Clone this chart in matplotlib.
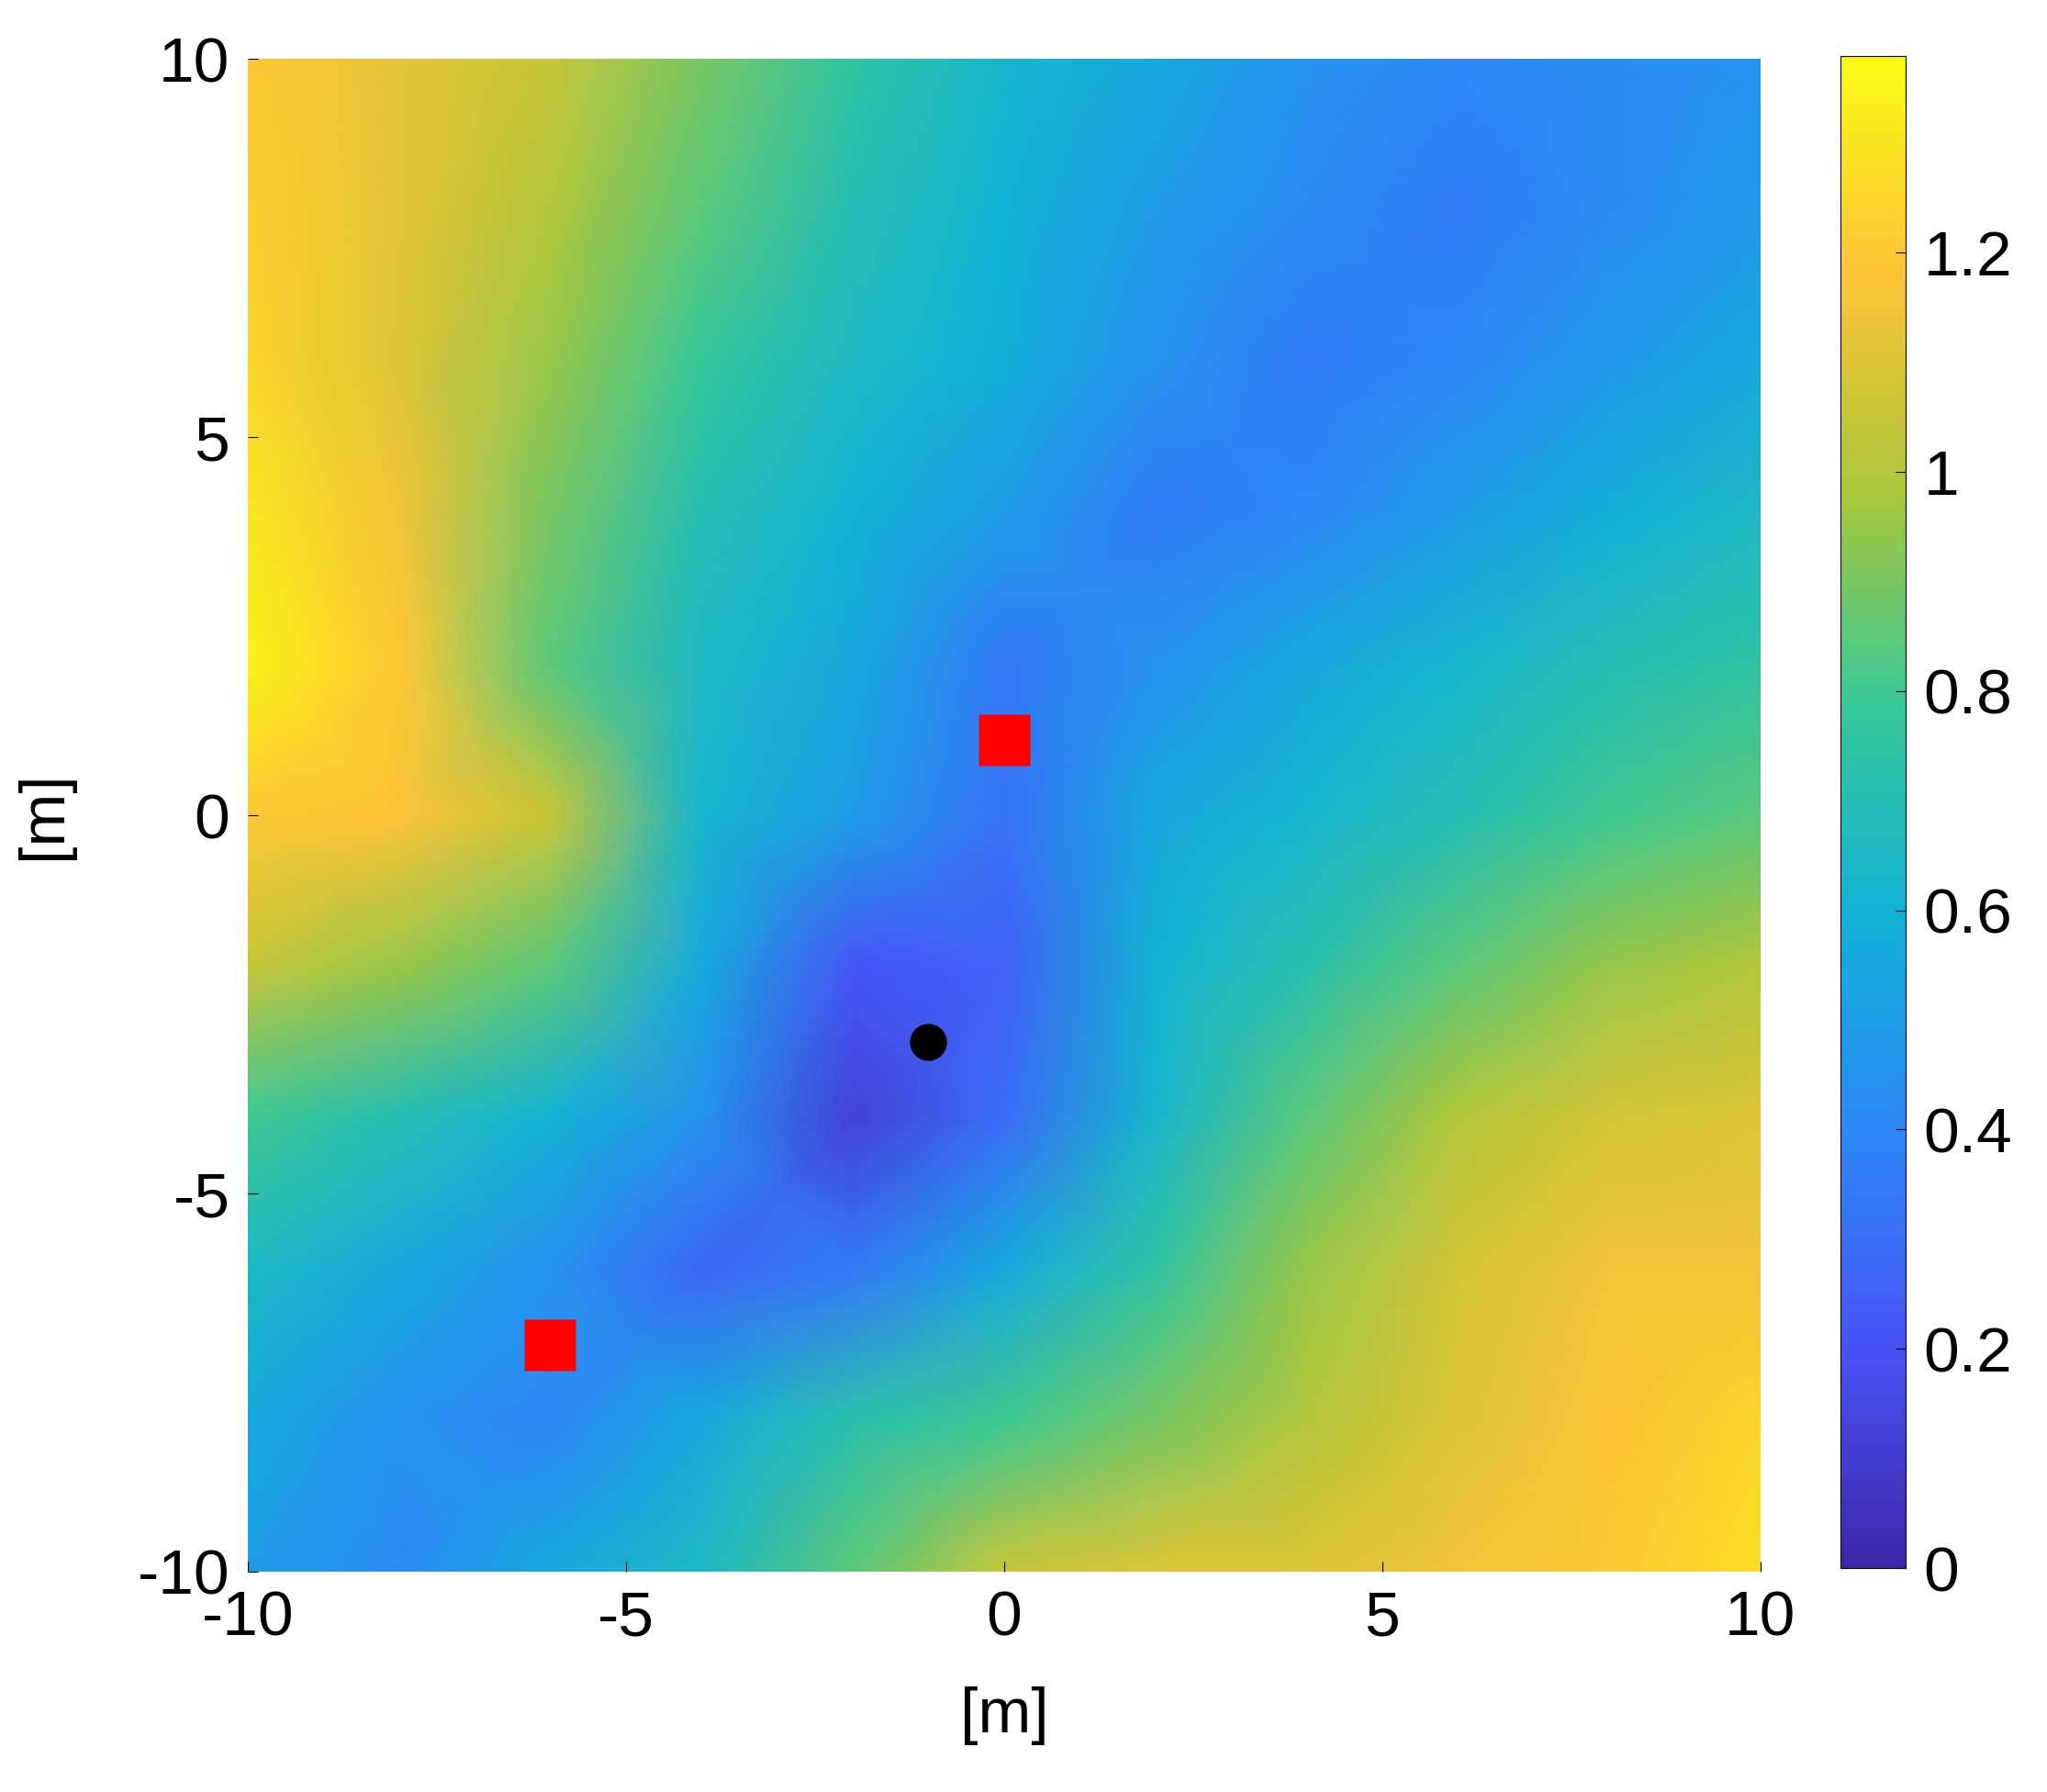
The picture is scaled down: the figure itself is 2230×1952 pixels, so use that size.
import numpy as np
import matplotlib
matplotlib.use("Agg")
import matplotlib.pyplot as plt
from matplotlib.colors import LinearSegmentedColormap

x_vals = [-10, -8, -6, -4, -2, 0, 2, 4, 6, 8, 10]
y_vals = [10, 8, 6, 4, 2, 0, -2, -4, -6, -8, -10]
z_rows = [
    [1.20, 1.12, 1.05, 0.90, 0.75, 0.62, 0.55, 0.45, 0.40, 0.42, 0.45],
    [1.22, 1.12, 1.00, 0.85, 0.70, 0.60, 0.50, 0.42, 0.36, 0.42, 0.48],
    [1.25, 1.10, 0.95, 0.78, 0.65, 0.58, 0.45, 0.36, 0.40, 0.48, 0.55],
    [1.30, 1.15, 0.90, 0.70, 0.60, 0.50, 0.36, 0.40, 0.50, 0.58, 0.65],
    [1.35, 1.20, 0.85, 0.65, 0.55, 0.35, 0.45, 0.55, 0.62, 0.70, 0.75],
    [1.20, 1.18, 1.05, 0.62, 0.50, 0.32, 0.55, 0.62, 0.70, 0.80, 0.85],
    [1.05, 0.95, 0.85, 0.55, 0.22, 0.25, 0.60, 0.72, 0.85, 0.95, 1.00],
    [0.80, 0.70, 0.60, 0.45, 0.12, 0.30, 0.62, 0.85, 1.00, 1.08, 1.10],
    [0.65, 0.55, 0.45, 0.28, 0.35, 0.55, 0.75, 0.95, 1.08, 1.15, 1.15],
    [0.55, 0.45, 0.40, 0.55, 0.72, 0.80, 0.90, 1.00, 1.10, 1.18, 1.25],
    [0.50, 0.42, 0.55, 0.65, 0.85, 1.05, 1.10, 1.10, 1.15, 1.20, 1.28],
]
anchor_x = [0, -6]
anchor_y = [1, -7]
target_x = [-1]
target_y = [-3]

parula = LinearSegmentedColormap.from_list("parula", [
    (0.2422, 0.1504, 0.6603), (0.2810, 0.3228, 0.9579), (0.1786, 0.5289, 0.9682),
    (0.0689, 0.6948, 0.8394), (0.2161, 0.7843, 0.5923), (0.6720, 0.7793, 0.2227),
    (0.9970, 0.7659, 0.2199), (0.9769, 0.9839, 0.0805)])

plt.rcParams['font.family'] = ['Liberation Sans', 'DejaVu Sans']
plt.rcParams['axes.unicode_minus'] = False
fig = plt.figure(figsize=(22.3, 19.52), dpi=100)
ax = fig.add_axes([0.121, 0.123, 0.739, 0.844])
X, Y = np.meshgrid(x_vals, y_vals)
m = ax.pcolormesh(X, Y, np.array(z_rows), cmap=parula, vmin=0, vmax=1.38, shading='gouraud')
ax.plot(anchor_x, anchor_y, 's', color='red', ms=40, mec='none')
ax.plot(target_x, target_y, 'o', color='black', ms=28)
ax.set_xlim(-10, 10); ax.set_ylim(-10, 10)
ax.set_xticks([-10, -5, 0, 5, 10]); ax.set_yticks([-10, -5, 0, 5, 10])
ax.tick_params(direction='in', labelsize=50, length=8, pad=14)
for s in ax.spines.values():
    s.set_visible(False)
ax.set_xlabel('[m]', fontsize=50, labelpad=30)
ax.set_ylabel('[m]', fontsize=50, labelpad=50)

cax = fig.add_axes([0.899, 0.125, 0.032, 0.844])
cb = fig.colorbar(m, cax=cax)
cb.set_ticks([0, 0.2, 0.4, 0.6, 0.8, 1, 1.2])
cb.set_ticklabels(['0', '0.2', '0.4', '0.6', '0.8', '1', '1.2'])
cax.tick_params(direction='in', labelsize=50, length=8, pad=14)
fig.savefig('out.png', dpi=100)
